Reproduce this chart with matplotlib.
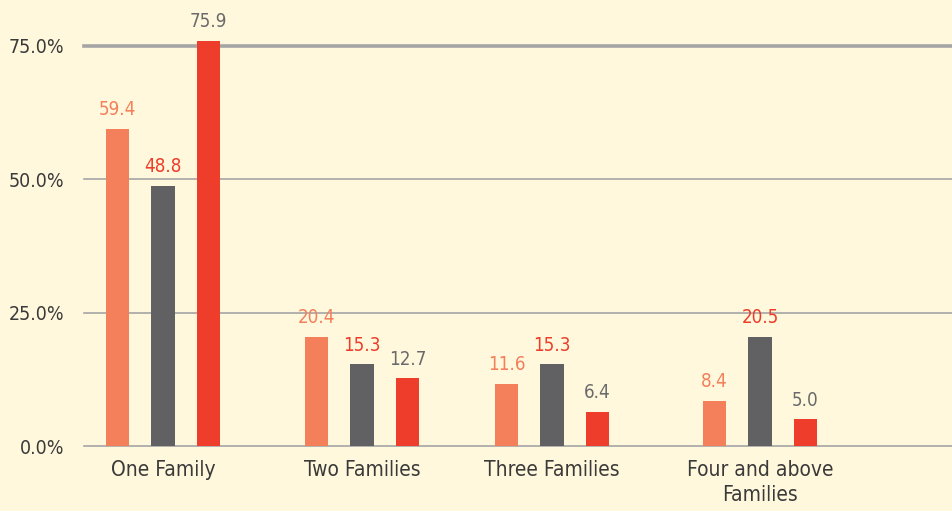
import matplotlib
matplotlib.use("Agg")
import matplotlib.pyplot as plt
import numpy as np

categories = ["One Family", "Two Families", "Three Families", "Four and above\nFamilies"]
series_a = [59.4, 20.4, 11.6, 8.4]
series_b = [48.8, 15.3, 15.3, 20.5]
series_c = [75.9, 12.7, 6.4, 5.0]
y_ticks = [0, 25, 50, 75]
y_tick_labels = ["0.0%", "25.0%", "50.0%", "75.0%"]

bar_colors = ["#F47F5B", "#616163", "#EE3D2B"]
label_colors = ["#F47F5B", "#EE3D2B", "#6A6A6C"]
bg = "#FFF8DC"
plt.rcParams["font.family"] = ["DejaVu Sans"]
plt.rcParams["font.stretch"] = "condensed"

fig = plt.figure(figsize=(9.52, 5.11), dpi=100, facecolor=bg)
ax = fig.add_axes([84/952, (511-446)/511, 1-84/952, 446/511])
ax.set_facecolor(bg)

x = np.array([0, 1.0, 1.955, 3.0])
off = 0.229
w = 0.116
for i, (vals, c, lc) in enumerate(zip([series_a, series_b, series_c], bar_colors, label_colors)):
    pos = x + (i - 1) * off
    ax.bar(pos, vals, width=w, color=c, zorder=3)
    for p, v in zip(pos, vals):
        ax.annotate(f"{v:.1f}", (p, v), xytext=(0, 7), textcoords="offset points",
                    ha="center", va="bottom", color=lc, fontsize=13.5)

ax.set_xlim(-0.397, 3.965)
ax.set_ylim(0, 83.6)
for s in ax.spines.values():
    s.set_visible(False)
for t in y_ticks:
    ax.axhline(t, color="#A5A5A5", lw=2.6 if t == 75 else 1.2, zorder=1, clip_on=False)
ax.set_yticks(y_ticks)
ax.set_yticklabels(y_tick_labels, fontsize=14, color="#3A3A3A")
ax.tick_params(axis="y", length=0, pad=14)
ax.set_xticks(x)
ax.set_xticklabels(categories, fontsize=15, color="#3A3A3A", linespacing=1.3)
ax.tick_params(axis="x", length=0, pad=10)

fig.savefig("out.png", dpi=100, facecolor=bg)
